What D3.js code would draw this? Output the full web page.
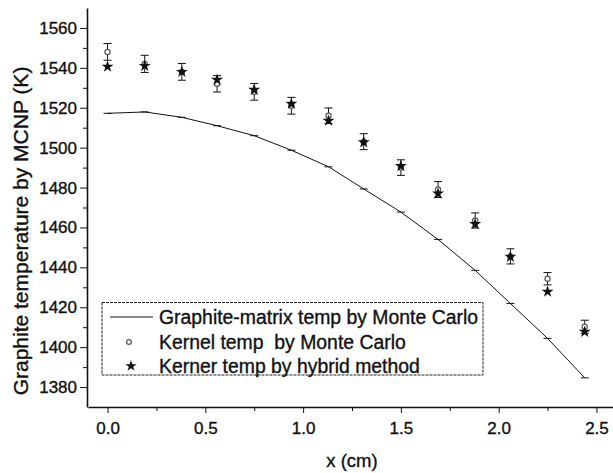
<!doctype html>
<html>
<head>
    <style>
        body { margin: 0; background: #fff; }
        text { font-family: "Liberation Sans", Arial, sans-serif; fill: #111; stroke: #111; stroke-width: 0.35px; }
        .axis path, .axis line { stroke: #111; }
    </style>
    <script src="https://d3js.org/d3.v7.min.js"></script>
</head>
<body>
<svg id="svg" width="613" height="473"></svg>
<script>
// positions along the pebble (cm)
var xs = [0, 0.19, 0.38, 0.56, 0.75, 0.94, 1.13, 1.31, 1.5, 1.69, 1.88, 2.06, 2.25, 2.44];
// graphite-matrix temperature by Monte Carlo (K)
var graphite = [1517.2, 1517.9, 1515.2, 1511, 1506, 1498.7, 1490.4, 1479.3, 1467.7, 1454, 1438.5, 1421.9, 1404.4, 1384.6];
// kernel temperature by Monte Carlo (K) and its error
var kernel = [1548, 1542, 1538, 1532, 1528, 1521, 1516, 1503, 1490, 1479, 1463.5, 1445.5, 1434.3, 1410.2];
var kernelErr = [4.2, 4.3, 4.2, 4.1, 4.2, 4.2, 3.9, 4, 3.9, 4, 3.8, 3.8, 3.1, 3.3];
// kerner temperature by hybrid method (K)
var hybrid = [1540.6, 1541, 1538, 1534, 1529, 1522, 1513.5, 1502.7, 1490.8, 1477, 1461.7, 1445.3, 1427.8, 1407.7];

var yTicks = [1380, 1400, 1420, 1440, 1460, 1480, 1500, 1520, 1540, 1560];
var yMinor = [1390, 1410, 1430, 1450, 1470, 1490, 1510, 1530, 1550];
var xTicks = [0, 0.5, 1, 1.5, 2, 2.5];
var xMinor = [0.25, 0.75, 1.25, 1.75, 2.25];

var legendLabels = ["Graphite-matrix temp by Monte Carlo", "Kernel temp  by Monte Carlo", "Kerner temp by hybrid method"];

var svg = d3.select("#svg");

var x = d3.scaleLinear().domain([-0.1, 2.6]).range([88, 616]);
var y = d3.scaleLinear().domain([1370, 1570]).range([407, 8]);

// minor ticks first
svg.append("g")
    .attr("class", "axis")
    .attr("transform", "translate(87,0)")
    .call(d3.axisLeft(y).tickValues(yMinor).tickSize(4).tickFormat(""))
    .call(function(g) { g.select(".domain").remove(); });

svg.append("g")
    .attr("class", "axis")
    .attr("transform", "translate(0,407)")
    .call(d3.axisBottom(x).tickValues(xMinor).tickSize(4).tickFormat(""))
    .call(function(g) { g.select(".domain").remove(); });

var yAxis = svg.append("g")
    .attr("class", "axis")
    .attr("transform", "translate(87,0)")
    .call(d3.axisLeft(y).tickValues(yTicks).tickSize(7).tickSizeOuter(0).tickPadding(3)
        .tickFormat(d3.format("d")));
yAxis.selectAll("text").style("font-size", "17px");
yAxis.select(".domain").attr("stroke-width", 1.6);

var xAxis = svg.append("g")
    .attr("class", "axis")
    .attr("transform", "translate(0,407)")
    .call(d3.axisBottom(x).tickValues(xTicks).tickSize(6).tickSizeOuter(0).tickPadding(9)
        .tickFormat(d3.format(".1f")));
xAxis.selectAll("text").style("font-size", "17px");
xAxis.select(".domain").attr("stroke-width", 1.6);

// axis titles
svg.append("text")
    .attr("transform", "translate(28,231) rotate(-90)")
    .attr("text-anchor", "middle")
    .style("font-size", "21px")
    .text("Graphite temperature by MCNP (K)");

svg.append("text")
    .attr("x", 352)
    .attr("y", 467)
    .attr("text-anchor", "middle")
    .style("font-size", "18.5px")
    .text("x (cm)");

var pts = xs.map(function(d, i) {
    return { x: d, g: graphite[i], k: kernel[i], e: kernelErr[i], h: hybrid[i] };
});

// graphite line with small caps at each point
svg.append("path")
    .datum(pts)
    .attr("fill", "none")
    .attr("stroke", "#111")
    .attr("stroke-width", 1)
    .attr("d", d3.line().x(function(d) { return x(d.x); }).y(function(d) { return y(d.g); }));

svg.selectAll(".gcap")
    .data(pts)
    .enter().append("line")
    .attr("class", "gcap")
    .attr("x1", function(d) { return x(d.x) - 4; })
    .attr("x2", function(d) { return x(d.x) + 4; })
    .attr("y1", function(d) { return y(d.g); })
    .attr("y2", function(d) { return y(d.g); })
    .attr("stroke", "#111")
    .attr("stroke-width", 1);

// error bars for kernel temp
var eb = svg.selectAll(".err")
    .data(pts)
    .enter().append("g")
    .attr("class", "err")
    .attr("stroke", "#111")
    .attr("stroke-width", 1);
eb.append("line")
    .attr("x1", function(d) { return x(d.x); })
    .attr("x2", function(d) { return x(d.x); })
    .attr("y1", function(d) { return y(d.k + d.e); })
    .attr("y2", function(d) { return y(d.k - d.e); });
eb.append("line")
    .attr("x1", function(d) { return x(d.x) - 4; })
    .attr("x2", function(d) { return x(d.x) + 4; })
    .attr("y1", function(d) { return y(d.k + d.e); })
    .attr("y2", function(d) { return y(d.k + d.e); });
eb.append("line")
    .attr("x1", function(d) { return x(d.x) - 4; })
    .attr("x2", function(d) { return x(d.x) + 4; })
    .attr("y1", function(d) { return y(d.k - d.e); })
    .attr("y2", function(d) { return y(d.k - d.e); });

// kernel temp circles
svg.selectAll(".kc")
    .data(pts)
    .enter().append("circle")
    .attr("class", "kc")
    .attr("cx", function(d) { return x(d.x); })
    .attr("cy", function(d) { return y(d.k); })
    .attr("r", 2.6)
    .attr("fill", "#fff")
    .attr("stroke", "#555")
    .attr("stroke-width", 1.2);

// hybrid stars
var star = d3.symbol().type(d3.symbolStar).size(45);
svg.selectAll(".hs")
    .data(pts)
    .enter().append("path")
    .attr("class", "hs")
    .attr("transform", function(d) { return "translate(" + x(d.x) + "," + y(d.h) + ")"; })
    .attr("d", star)
    .attr("fill", "#111");

// legend
var lg = svg.append("g");
lg.append("rect")
    .attr("x", 102).attr("y", 302.5)
    .attr("width", 381).attr("height", 72.5)
    .attr("fill", "#fff")
    .attr("stroke", "#222")
    .attr("stroke-width", 1)
    .attr("stroke-dasharray", "3,1");

var rowY = [317, 342, 366];
lg.append("line")
    .attr("x1", 110).attr("x2", 153)
    .attr("y1", rowY[0]).attr("y2", rowY[0])
    .attr("stroke", "#111");
lg.append("circle")
    .attr("cx", 129).attr("cy", rowY[1]).attr("r", 2.4)
    .attr("fill", "#fff").attr("stroke", "#555").attr("stroke-width", 1.2);
lg.append("path")
    .attr("transform", "translate(131," + rowY[2] + ")")
    .attr("d", d3.symbol().type(d3.symbolStar).size(40))
    .attr("fill", "#111");

lg.selectAll(".lt")
    .data(legendLabels)
    .enter().append("text")
    .attr("class", "lt")
    .attr("x", 159)
    .attr("y", function(d, i) { return rowY[i]; })
    .attr("dy", "0.36em")
    .style("font-size", "19.4px")
    .style("white-space", "pre")
    .text(function(d) { return d; });
</script>
</body>
</html>
